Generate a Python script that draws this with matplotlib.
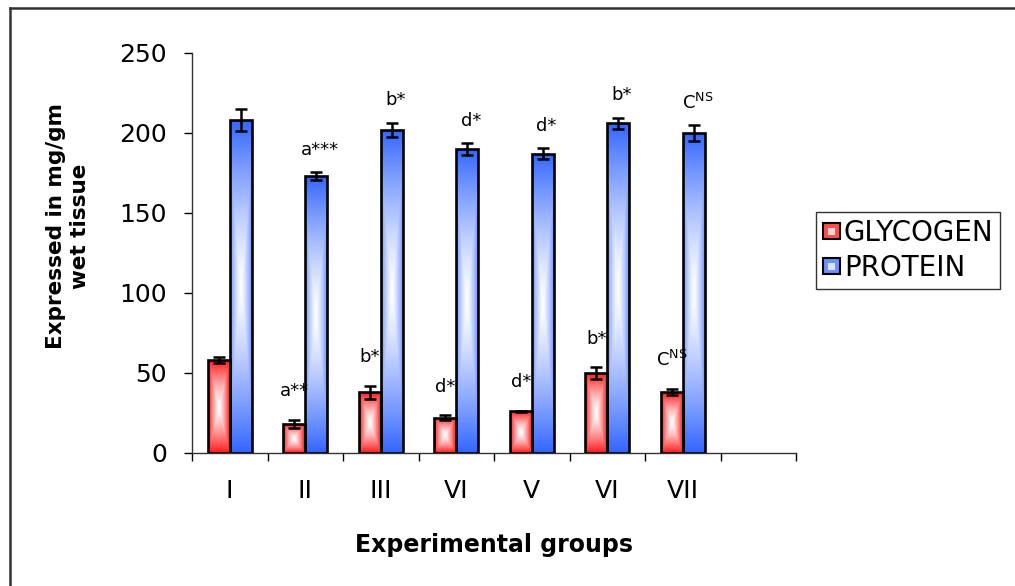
import matplotlib
matplotlib.use("Agg")
import matplotlib.pyplot as plt
import numpy as np
from matplotlib.colors import to_rgb
from matplotlib.patches import Rectangle
from matplotlib.lines import Line2D
from matplotlib.legend_handler import HandlerBase

plt.rcParams["font.family"] = ["DejaVu Sans"]

# ── data ────────────────────────────────────────────
groups = ["I", "II", "III", "VI", "V", "VI", "VII"]
glycogen = [58, 18, 38, 22, 26, 50, 38]
glycogen_err = [2, 2.5, 4, 1.5, 0.5, 3.5, 2]
protein = [208, 173, 202, 190, 187, 206, 200]
protein_err = [7, 2.5, 4.5, 3.5, 3.5, 3.5, 5]
glycogen_marks = ["", "a**", "b*", "d*", "d*", "b*", r"C$^{\mathrm{NS}}$"]
protein_marks = ["", "a***", "b*", "d*", "d*", "b*", r"C$^{\mathrm{NS}}$"]

RED = "#ff1a1a"
BLUE = "#3366ff"
BAR_W = 0.29
N_SLOTS = 8


def gradient_bar(ax, x0, w, h, color, kx):
    """Bar filled with a 'from centre' gradient (white in the middle)."""
    rect = Rectangle((x0, 0), w, h, facecolor="none", edgecolor="black",
                     linewidth=1.9, zorder=4)
    ax.add_patch(rect)
    u = np.linspace(-1, 1, 40)
    v = np.linspace(-1, 1, 300)
    U, V = np.meshgrid(u, v)
    t = np.maximum(kx * np.abs(U), np.abs(V)) ** 1.3
    rgb = np.array(to_rgb(color))
    img = (1 - t)[..., None] + t[..., None] * rgb
    im = ax.imshow(img, extent=(x0, x0 + w, 0, h), aspect="auto",
                   origin="lower", interpolation="bilinear", zorder=3)
    im.set_clip_path(rect)


class GradHandler(HandlerBase):
    def __init__(self, color):
        super().__init__()
        self.color = color

    def create_artists(self, legend, orig_handle, xdescent, ydescent,
                       width, height, fontsize, trans):
        s = height * 0.85
        x0 = -xdescent + (width - s) / 2
        y0 = -ydescent + (height - s) / 2
        outer = Rectangle((x0, y0), s, s, facecolor=self.color,
                          edgecolor="black", linewidth=1.5, transform=trans)
        inner = Rectangle((x0 + s * 0.28, y0 + s * 0.28), s * 0.44, s * 0.44,
                          facecolor="white", edgecolor="none", alpha=0.75,
                          transform=trans)
        return [outer, inner]


fig = plt.figure(figsize=(10.15, 5.86), dpi=100)
fig.patch.set_facecolor("white")
ax = fig.add_axes([192 / 1015, 1 - 453 / 586, (796 - 192) / 1015, 400 / 586])

x = np.arange(len(groups)) + 0.5
for i in range(len(groups)):
    gradient_bar(ax, x[i] - BAR_W, BAR_W, glycogen[i], RED, 1.0)
    gradient_bar(ax, x[i], BAR_W, protein[i], BLUE, 0.75)

ax.errorbar(x - BAR_W / 2, glycogen, yerr=glycogen_err, fmt="none",
            ecolor="black", elinewidth=1.8, capsize=4.5, capthick=1.8, zorder=5)
ax.errorbar(x + BAR_W / 2, protein, yerr=protein_err, fmt="none",
            ecolor="black", elinewidth=1.8, capsize=4.5, capthick=1.8, zorder=5)

for i in range(len(groups)):
    if glycogen_marks[i]:
        ax.text(x[i] - BAR_W / 2, glycogen[i] + glycogen_err[i] + 18,
                glycogen_marks[i], ha="center", va="center", fontsize=13)
    if protein_marks[i]:
        ax.text(x[i] + BAR_W / 2 + 0.05, protein[i] + protein_err[i] + 14,
                protein_marks[i], ha="center", va="center", fontsize=13)

ax.set_xlim(0, N_SLOTS)
ax.set_ylim(0, 250)
ax.set_yticks(np.arange(0, 251, 50))
ax.set_xticks(x)
ax.set_xticklabels(groups)
ax.set_xticks(np.arange(0, N_SLOTS + 1), minor=True)
ax.tick_params(axis="x", which="major", length=0, pad=19, labelsize=18)
ax.tick_params(axis="x", which="minor", length=6, width=1, direction="out")
ax.tick_params(axis="y", length=6, width=1, pad=12, labelsize=18)
for side in ("top", "right"):
    ax.spines[side].set_visible(False)
for side in ("left", "bottom"):
    ax.spines[side].set_linewidth(1)
    ax.spines[side].set_color("#333333")

fig.text(68 / 1015, 1 - 226 / 586, "Expressed in mg/gm\nwet tissue",
         rotation=90, ha="center", va="center", fontsize=15.5,
         fontweight="bold", linespacing=1.3, multialignment="center")
fig.text(494 / 1015, 1 - 545 / 586, "Experimental groups", ha="center",
         va="center", fontsize=17, fontweight="bold")

h1 = Rectangle((0, 0), 1, 1)
h2 = Rectangle((0, 0), 1, 1)
leg = fig.legend([h1, h2], ["GLYCOGEN", "PROTEIN"],
                 handler_map={h1: GradHandler("#ff5050"), h2: GradHandler("#6f8fff")},
                 loc="upper left", bbox_to_anchor=(816 / 1015, 1 - 212 / 586),
                 bbox_transform=fig.transFigure, fontsize=20, frameon=True,
                 fancybox=False, handlelength=0.6, handleheight=0.7,
                 handletextpad=0.15, borderpad=0.25, labelspacing=0.25,
                 borderaxespad=0)
leg.get_frame().set_edgecolor("black")
leg.get_frame().set_linewidth(1)

# outer chart frame (top and left edges visible)
fig.add_artist(Line2D([10 / 1015, 1], [1 - 8 / 586] * 2,
                      transform=fig.transFigure, color="#333333", lw=1.8))
fig.add_artist(Line2D([10 / 1015] * 2, [0, 1 - 8 / 586],
                      transform=fig.transFigure, color="#333333", lw=1.8))

fig.savefig("out.png", dpi=100, facecolor="white")
